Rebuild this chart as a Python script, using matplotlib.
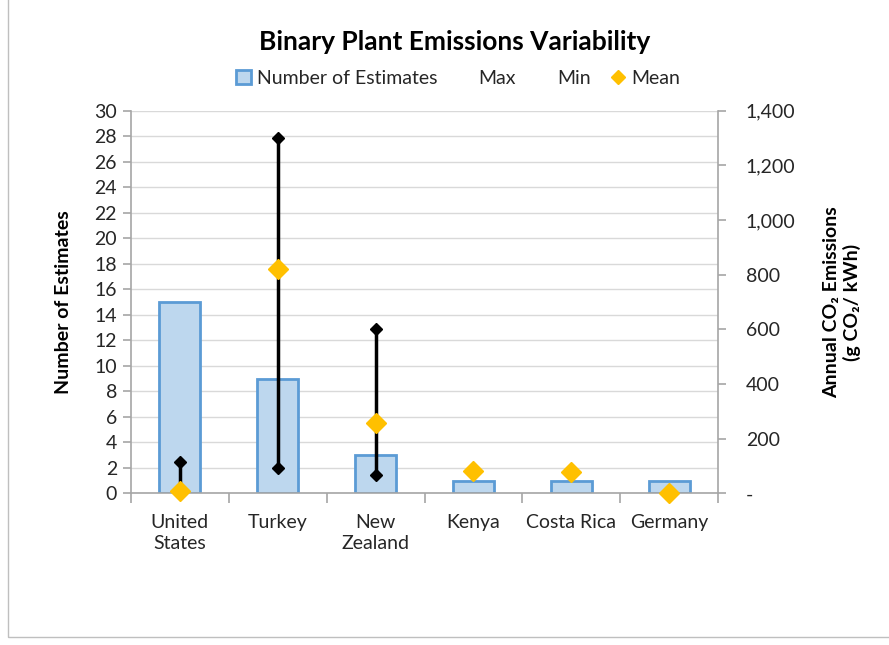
import matplotlib.pyplot as plt
from matplotlib.lines import Line2D
from matplotlib.patches import Patch, Rectangle
from matplotlib.ticker import FuncFormatter
import numpy as np

plt.rcParams['font.family'] = ['Lato', 'DejaVu Sans']

### data
countries = ['United\nStates', 'Turkey', 'New\nZealand', 'Kenya', 'Costa Rica', 'Germany']
n_estimates = [15, 9, 3, 1, 1, 1]
co2_max = [113, 1300, 600, None, None, None]
co2_min = [5, 91, 66, None, None, None]
co2_mean = [8, 822, 256, 80, 77, 1]

### colours
bar_face = '#BDD7EE'
bar_edge = '#5B9BD5'
mean_col = '#FFC000'
axis_col = '#A6A6A6'
grid_col = '#D9D9D9'
text_col = '#262626'

fig = plt.figure(figsize=(8.89, 6.45), dpi=100)
ax = fig.add_axes([131 / 889, 1 - 493.3 / 645, (718 - 131) / 889, (493.3 - 110.7) / 645])
ax2 = ax.twinx()

x = np.arange(len(countries))

### bars: number of estimates
ax.bar(x, n_estimates, width=0.42, color=bar_face, edgecolor=bar_edge, linewidth=2, zorder=2)
ax.set_xlim(-0.5, len(countries) - 0.5)
ax.set_ylim(0, 30)
ax.set_yticks(np.arange(0, 31, 2))
ax.yaxis.grid(True, color=grid_col, linewidth=1)
ax.set_axisbelow(True)

### max / min / mean on the secondary axis
for i in range(len(countries)):
    if co2_max[i] is not None:
        ax2.plot([x[i], x[i]], [co2_min[i], co2_max[i]], color='black', linewidth=2.5, zorder=3)
xm = [x[i] for i in range(len(countries)) if co2_max[i] is not None]
ax2.plot(xm, [v for v in co2_max if v is not None], 'D', color='black', markersize=6, zorder=4)
ax2.plot(xm, [v for v in co2_min if v is not None], 'D', color='black', markersize=6, zorder=4)
ax2.plot(x, co2_mean, 'D', color=mean_col, markersize=10.5, zorder=5, clip_on=False)
ax2.set_ylim(0, 1400)
ax2.set_yticks(np.arange(0, 1401, 200))
ax2.yaxis.set_major_formatter(FuncFormatter(lambda v, p: '-' if v == 0 else '{:,.0f}'.format(v)))

### axes styling
for a in (ax, ax2):
    for s in a.spines.values():
        s.set_visible(False)
ax.spines['left'].set_visible(True)
ax.spines['bottom'].set_visible(True)
ax2.spines['right'].set_visible(True)
for s in (ax.spines['left'], ax.spines['bottom'], ax2.spines['right']):
    s.set_color(axis_col)
    s.set_linewidth(1.2)

ax.set_xticks(x)
ax.set_xticklabels(countries, fontsize=14, color=text_col, linespacing=1.25)
ax.set_xticks(np.arange(-0.5, len(countries), 1), minor=True)
ax.tick_params(axis='x', which='major', length=0, pad=15)
ax.tick_params(axis='x', which='minor', length=7, color=axis_col, width=1.2)
ax.tick_params(axis='y', length=6, color=axis_col, width=1.2, labelsize=14, labelcolor=text_col, pad=4)
ax2.tick_params(axis='y', length=6, color=axis_col, width=1.2, labelsize=14, labelcolor=text_col, pad=14)

ax.set_ylabel('Number of Estimates', fontsize=14, fontweight='bold', labelpad=16)
ax2.set_ylabel('Annual CO\u2082 Emissions\n(g CO\u2082/ kWh)', fontsize=14, fontweight='bold',
               rotation=90, labelpad=20, linespacing=1.15)

### title and legend
fig.text(455 / 889, 1 - 42 / 645, 'Binary Plant Emissions Variability', ha='center', va='center',
         fontsize=19, fontweight='bold')
handles = [
    Patch(facecolor=bar_face, edgecolor=bar_edge, linewidth=2),
    Line2D([], [], linestyle='none', marker='none'),
    Line2D([], [], linestyle='none', marker='none'),
    Line2D([], [], linestyle='none', marker='D', color=mean_col, markersize=7),
]
fig.legend(handles, ['Number of Estimates', 'Max', 'Min', 'Mean'], loc='center',
           bbox_to_anchor=(458 / 889, 1 - 78 / 645), ncol=4, frameon=False, fontsize=14,
           handlelength=0.8, handletextpad=0.3, columnspacing=1.0, labelcolor=text_col)

### chart border
fig.patches.append(Rectangle((8 / 889, 8 / 645), 1.0, 1.0, transform=fig.transFigure,
                             fill=False, edgecolor='#BFBFBF', linewidth=1))

fig.savefig('out.png', dpi=100)
